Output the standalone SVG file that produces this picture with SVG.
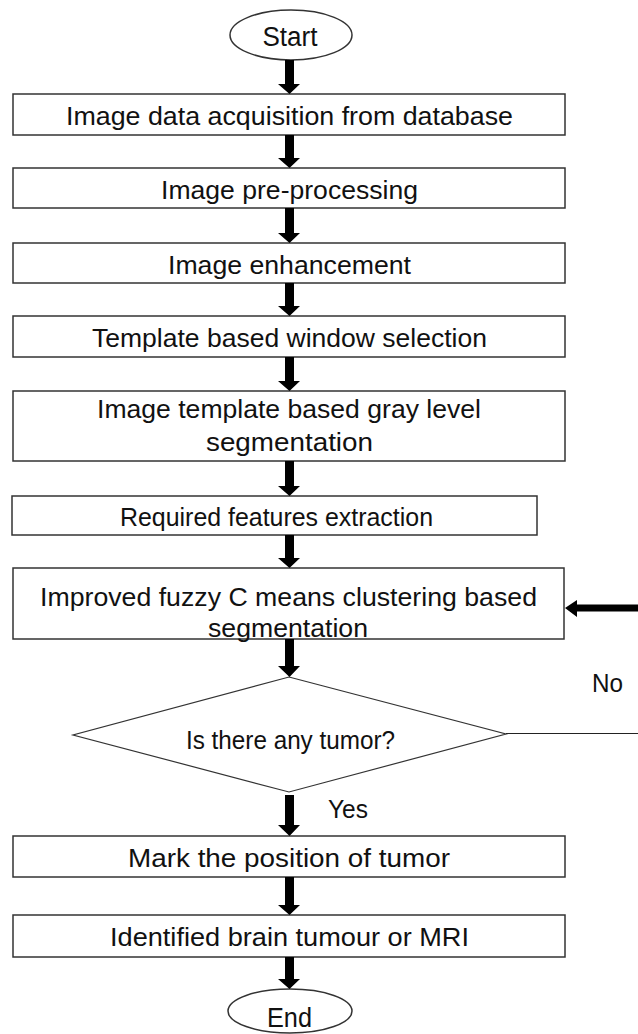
<svg xmlns="http://www.w3.org/2000/svg" width="638" height="1034" viewBox="0 0 638 1034">
<style>
.box{fill:#fff;stroke:#333;stroke-width:1.5}
.t{font-family:"Liberation Sans",Arial,sans-serif;font-size:25px;fill:#111;text-anchor:middle}
.big{font-size:27px}
.arr{fill:#000}
.ln{stroke:#222;stroke-width:1.2;fill:none}
</style>
<g id="start"><ellipse class="box" cx="291" cy="35" rx="61" ry="25"/><text class="t big" x="290" y="46" textLength="55" lengthAdjust="spacingAndGlyphs">Start</text></g>
<g id="n1"><rect class="box" x="13" y="94" width="552" height="41"/><text class="t" x="289.5" y="125" textLength="447" lengthAdjust="spacingAndGlyphs">Image data acquisition from database</text></g>
<g id="n2"><rect class="box" x="13" y="168" width="552" height="40"/><text class="t" x="289.5" y="199" textLength="257" lengthAdjust="spacingAndGlyphs">Image pre-processing</text></g>
<g id="n3"><rect class="box" x="13" y="243" width="552" height="40"/><text class="t" x="289.5" y="274" textLength="243" lengthAdjust="spacingAndGlyphs">Image enhancement</text></g>
<g id="n4"><rect class="box" x="13" y="316" width="552" height="41"/><text class="t" x="289.5" y="347" textLength="395" lengthAdjust="spacingAndGlyphs">Template based window selection</text></g>
<g id="n5"><rect class="box" x="13" y="391" width="552" height="70"/><text class="t" x="289" y="418" textLength="384" lengthAdjust="spacingAndGlyphs">Image template based gray level</text><text class="t" x="289.5" y="451" textLength="167" lengthAdjust="spacingAndGlyphs">segmentation</text></g>
<g id="n6"><rect class="box" x="12" y="496" width="525" height="39"/><text class="t" x="276.5" y="526" textLength="313" lengthAdjust="spacingAndGlyphs">Required features extraction</text></g>
<g id="n7"><rect class="box" x="13" y="568" width="551" height="71"/><text class="t" x="288.5" y="606" textLength="497" lengthAdjust="spacingAndGlyphs">Improved fuzzy C means clustering based</text><text class="t" x="288" y="637" textLength="160" lengthAdjust="spacingAndGlyphs">segmentation</text></g>
<g id="decision"><polygon class="box" points="289,677 506,734 289,792 73,735" style="stroke-width:1.2"/><text class="t" x="290.5" y="749" textLength="209" lengthAdjust="spacingAndGlyphs">Is there any tumor?</text></g>
<g id="n8"><rect class="box" x="13" y="836" width="552" height="41"/><text class="t" x="289" y="867" textLength="322" lengthAdjust="spacingAndGlyphs">Mark the position of tumor</text></g>
<g id="n9"><rect class="box" x="13" y="915" width="552" height="42"/><text class="t" x="289.5" y="946" textLength="359" lengthAdjust="spacingAndGlyphs">Identified brain tumour or MRI</text></g>
<g id="end"><ellipse class="box" cx="290" cy="1011" rx="62" ry="22"/><text class="t big" x="289.5" y="1027" textLength="45" lengthAdjust="spacingAndGlyphs">End</text></g>
<g id="connectors">
<path class="arr" d="M285,60 H294 V84 H300 L289.5,94 L278,84 H285 Z"/>
<path class="arr" d="M285,135 H294 V158 H300 L289.5,168 L278,158 H285 Z"/>
<path class="arr" d="M285,208 H294 V233 H300 L289.5,243 L278,233 H285 Z"/>
<path class="arr" d="M285,283 H294 V306 H300 L289.5,316 L278,306 H285 Z"/>
<path class="arr" d="M285,357 H294 V381 H300 L289.5,391 L278,381 H285 Z"/>
<path class="arr" d="M285,461 H294 V486 H300 L289.5,496 L278,486 H285 Z"/>
<path class="arr" d="M285,535 H294 V558 H300 L289.5,568 L278,558 H285 Z"/>
<path class="arr" d="M285,639 H294 V666 H300 L289.5,677 L278,666 H285 Z"/>
<path class="arr" d="M285,795 H294 V825 H300 L289.5,836 L278,825 H285 Z"/>
<path class="arr" d="M285,877 H294 V905 H300 L289.5,915 L278,905 H285 Z"/>
<path class="arr" d="M285,957 H294 V979 H300 L289.5,989 L278,979 H285 Z"/>
<path class="arr" d="M638,604.5 V611.5 H577 V617 L565,608 L577,600 V604.5 Z"/>
<line class="ln" x1="506" y1="733.5" x2="638" y2="733.5"/>
<text class="t" x="607.5" y="692" textLength="31" lengthAdjust="spacingAndGlyphs">No</text>
<text class="t" x="348" y="818" textLength="40" lengthAdjust="spacingAndGlyphs">Yes</text>
</g>
</svg>
